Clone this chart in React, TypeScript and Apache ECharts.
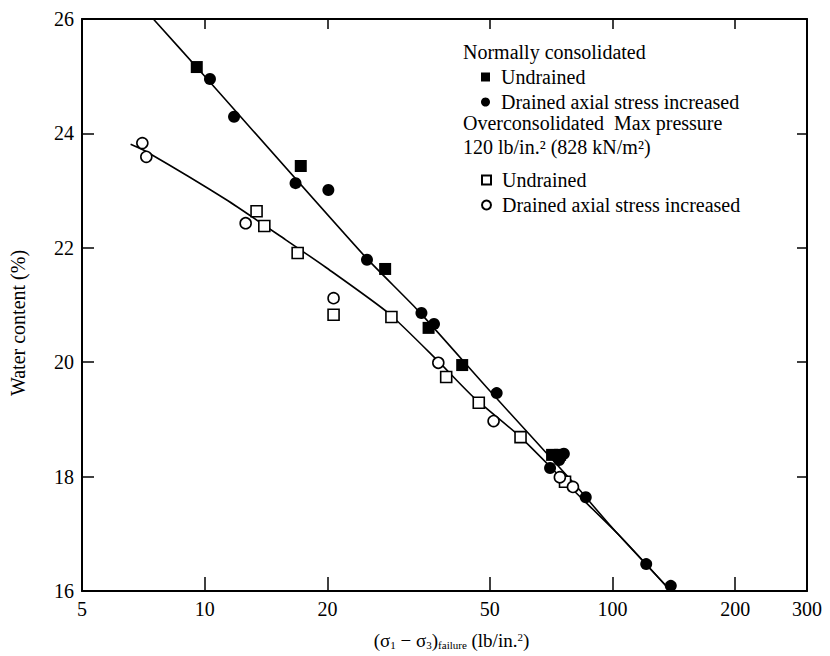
import React, { useEffect, useRef } from "react";
import * as echarts from "echarts";

const xTickValues = [5, 10, 20, 50, 100, 200, 300];

// Normally consolidated
const ncUndrained: [number, number][] = [
  [9.56, 25.16], [17.2, 23.43], [27.7, 21.63], [35.4, 20.6], [42.8, 19.95], [71.1, 18.38], [74.4, 18.38],
];
const ncDrained: [number, number][] = [
  [10.3, 24.95], [11.8, 24.29], [16.7, 23.13], [20.1, 23.01], [25.0, 21.79], [34.0, 20.86], [36.5, 20.67],
  [52.0, 19.46], [70.3, 18.15], [74.0, 18.29], [76.0, 18.4], [86.0, 17.64], [121, 16.47], [139, 16.09],
];
const ncLine: [number, number][] = [
  [7.48, 26], [10, 25.0], [24.7, 21.85], [33.3, 20.91], [50, 19.5], [80, 17.9], [100, 17.1], [139, 16],
];

// Overconsolidated
const ocUndrained: [number, number][] = [
  [13.4, 22.64], [14.0, 22.38], [16.9, 21.91], [20.7, 20.83], [28.7, 20.79], [39.1, 19.74], [47.0, 19.29],
  [59.5, 18.69], [76.5, 17.91],
];
const ocDrained: [number, number][] = [
  [7.03, 23.83], [7.19, 23.59], [12.6, 22.43], [20.7, 21.12], [37.4, 19.99], [51.1, 18.97], [74.3, 17.99], [80.0, 17.82],
];
const ocLine: [number, number][] = [
  [6.58, 23.81], [7.2, 23.68], [11.3, 22.84], [15.8, 22.14], [19.8, 21.66], [28.2, 20.86], [37.1, 20.04],
  [45.6, 19.39], [59.5, 18.69], [80, 17.77], [105, 16.94], [139, 16],
];

const legendLabels: Record<string, string> = {
  "NC Undrained": "Undrained",
  "NC Drained": "Drained axial stress increased",
  "OC Undrained": "Undrained",
  "OC Drained": "Drained axial stress increased",
};

const FONT = "'Liberation Serif', 'Times New Roman', serif";

export default function App() {
  const ref = useRef<HTMLDivElement>(null);
  useEffect(() => {
    document.body.style.margin = "0";
    if (!ref.current) return;
    const chart = echarts.init(ref.current, null, { renderer: "svg" });
    const black = "#000";
    const legendText = { fontFamily: FONT, fontSize: 20, color: black, padding: [0, 0, 0, 6] };
    const axisCommon = {
      axisLine: { show: true, lineStyle: { color: black, width: 2 } },
      splitLine: { show: false },
      minorTick: { show: false },
      minorSplitLine: { show: false },
    };
    chart.setOption({
      animation: false,
      backgroundColor: "#fff",
      grid: { left: 74, right: 23, top: 19, bottom: 65, containLabel: false },
      xAxis: [
        {
          type: "log",
          logBase: 10,
          min: 5,
          max: 300,
          position: "bottom",
          ...axisCommon,
          axisTick: { show: true, inside: true, length: 14, customValues: xTickValues, lineStyle: { color: black, width: 1.5 } },
          axisLabel: {
            customValues: xTickValues,
            fontFamily: FONT,
            fontSize: 20,
            color: black,
            margin: 8,
            formatter: (v: number) => String(Math.round(v)),
          },
          name: "(σ{sub|1} − σ{sub|3}){sub|failure} (lb/in.{sup|2})",
          nameLocation: "middle",
          nameGap: 40,
          nameTextStyle: {
            fontFamily: FONT,
            fontSize: 19,
            color: black,
            padding: [0, 0, 0, 14],
            rich: {
              sub: { fontFamily: FONT, fontSize: 11, verticalAlign: "bottom", padding: [8, 0, 0, 0], color: black },
              sup: { fontFamily: FONT, fontSize: 11, verticalAlign: "top", padding: [0, 0, 8, 0], color: black },
            },
          },
        },
        {
          type: "log",
          logBase: 10,
          min: 5,
          max: 300,
          position: "top",
          ...axisCommon,
          axisTick: { show: true, inside: true, length: 10, customValues: xTickValues, lineStyle: { color: black, width: 1.5 } },
          axisLabel: { show: false },
        },
      ],
      yAxis: [
        {
          type: "value",
          min: 16,
          max: 26,
          interval: 2,
          position: "left",
          ...axisCommon,
          axisTick: { show: true, inside: true, length: 12, lineStyle: { color: black, width: 1.5 } },
          axisLabel: { fontFamily: FONT, fontSize: 20, color: black, margin: 8 },
          name: "Water content (%)",
          nameLocation: "middle",
          nameGap: 54,
          nameTextStyle: { fontFamily: FONT, fontSize: 20, color: black, padding: [0, 36, 0, 0] },
        },
        {
          type: "value",
          min: 16,
          max: 26,
          interval: 2,
          position: "right",
          ...axisCommon,
          axisTick: { show: true, inside: true, length: 10, lineStyle: { color: black, width: 1.5 } },
          axisLabel: { show: false },
        },
      ],
      legend: [
        {
          orient: "vertical",
          left: 476,
          top: 62,
          itemWidth: 9,
          itemHeight: 9,
          itemGap: 5,
          data: ["NC Undrained", "NC Drained"],
          formatter: (n: string) => legendLabels[n],
          textStyle: legendText,
          selectedMode: false,
        },
        {
          orient: "vertical",
          left: 476,
          top: 165,
          itemWidth: 9,
          itemHeight: 9,
          itemGap: 5,
          data: ["OC Undrained", "OC Drained"],
          formatter: (n: string) => legendLabels[n],
          textStyle: legendText,
          selectedMode: false,
        },
      ],
      graphic: [
        {
          type: "text",
          left: 463,
          top: 42,
          style: { text: "Normally consolidated", fontFamily: FONT, fontSize: 20, fill: black },
        },
        {
          type: "text",
          left: 463,
          top: 113,
          style: { text: "Overconsolidated  Max pressure", fontFamily: FONT, fontSize: 20, fill: black },
        },
        {
          type: "text",
          left: 463,
          top: 137,
          style: { text: "120 lb/in.² (828 kN/m²)", fontFamily: FONT, fontSize: 20, fill: black },
        },
      ],
      series: [
        {
          name: "NC line",
          type: "line",
          data: ncLine,
          showSymbol: false,
          symbol: "none",
          smooth: 0.2,
          lineStyle: { color: black, width: 1.6 },
          silent: true,
          z: 1,
        },
        {
          name: "OC line",
          type: "line",
          data: ocLine,
          showSymbol: false,
          symbol: "none",
          smooth: 0.2,
          lineStyle: { color: black, width: 1.6 },
          silent: true,
          z: 1,
        },
        {
          name: "NC Undrained",
          type: "scatter",
          data: ncUndrained,
          symbol: "rect",
          symbolSize: 12,
          itemStyle: { color: black, borderColor: black, borderWidth: 0, opacity: 1 },
          z: 3,
        },
        {
          name: "NC Drained",
          type: "scatter",
          data: ncDrained,
          symbol: "circle",
          symbolSize: 12,
          itemStyle: { color: black, borderColor: black, borderWidth: 0, opacity: 1 },
          z: 3,
        },
        {
          name: "OC Undrained",
          type: "scatter",
          data: ocUndrained,
          symbol: "rect",
          symbolSize: 11,
          itemStyle: { color: "#fff", borderColor: black, borderWidth: 1.6, opacity: 1 },
          z: 2,
        },
        {
          name: "OC Drained",
          type: "scatter",
          data: ocDrained,
          symbol: "circle",
          symbolSize: 11,
          itemStyle: { color: "#fff", borderColor: black, borderWidth: 1.6, opacity: 1 },
          z: 2,
        },
      ],
    });
    return () => chart.dispose();
  }, []);
  return <div ref={ref} style={{ position: "absolute", left: 0, top: 0, width: 830, height: 656 }} />;
}
